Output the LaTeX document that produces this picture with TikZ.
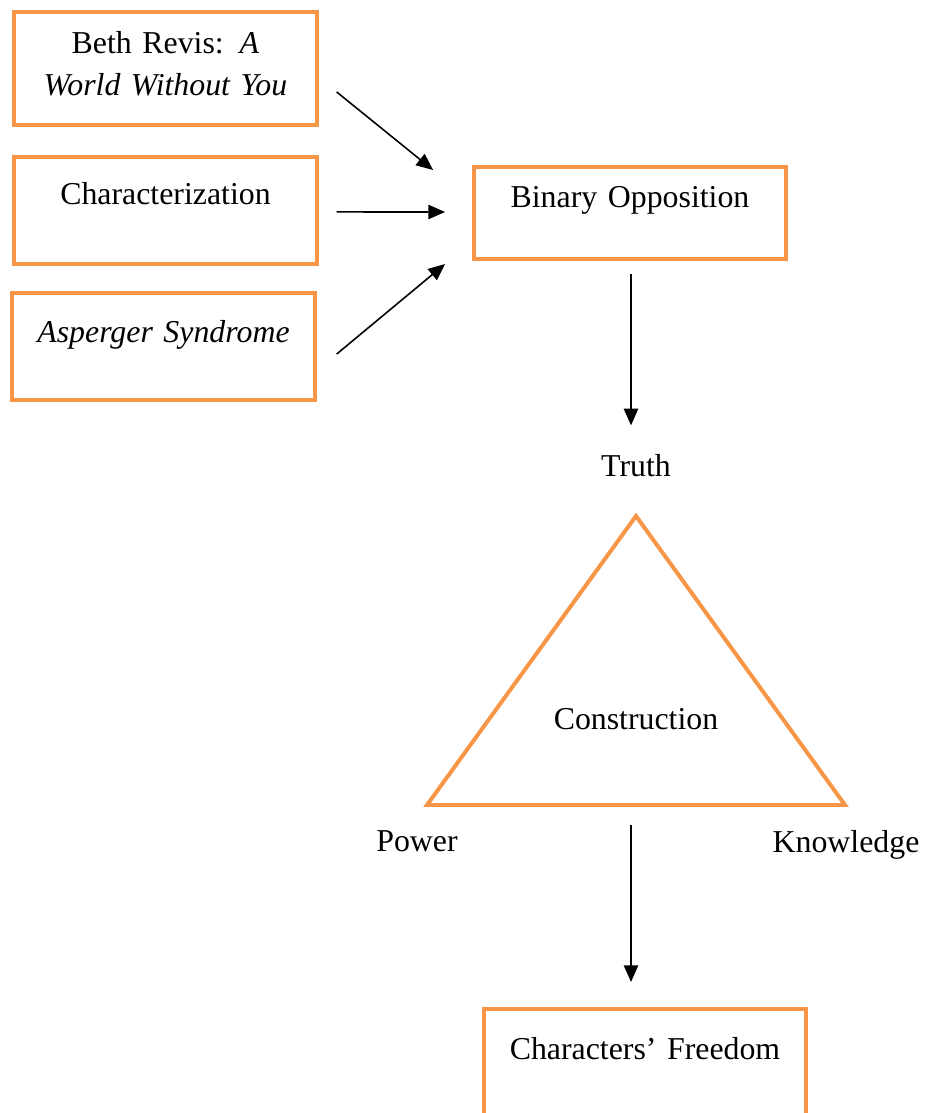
\documentclass[tikz,border=0pt]{standalone}
\usepackage{fontspec}
\setmainfont{Liberation Serif}
\usetikzlibrary{arrows.meta,calc}
\definecolor{boxorange}{HTML}{F79646}
\tikzset{
  obox/.style={draw=boxorange,line width=1.5pt,inner sep=0pt,align=center,
               anchor=north,font=\fontsize{12}{15.5}\selectfont},
  plainlbl/.style={font=\fontsize{12}{15.5}\selectfont,anchor=base,inner sep=0pt},
  link/.style={-{Triangle[length=6.3pt,width=5.4pt]},line width=0.6pt}
}

\begin{document}
\begin{tikzpicture}[x=0.377pt,y=-0.377pt]
  \path[use as bounding box] (0,0) rectangle (925,1113);
  \clip (0,0) rectangle (925,1113);
  % the three sources
  \node[obox,text width=114pt,text height=15.8pt,text depth=26.8pt] (revis) at (165.5,10)
    {Beth Revis: \textit{A}\\\textit{World Without You}};
  \node[obox,text width=114pt,text height=18.1pt,text depth=22.2pt] (charac) at (165.5,155)
    {Characterization};
  \node[obox,text width=114pt,text height=18.5pt,text depth=21.9pt] (asperger) at (163.5,291)
    {\textit{Asperger Syndrome}};
  \node[obox,text width=117.6pt,text height=15.1pt,text depth=19.6pt] (binary) at (630,165)
    {Binary Opposition};
  \draw[link] ($(revis.east)+(18,23.5)$) -- ($(binary.west)+(-39,-43)$);
  \draw[link] ($(charac.east)+(18,1.5)$) -- ($(binary.west)+(-27,-1)$);
  \draw[link] ($(asperger.east)+(20,7.5)$) -- ($(binary.west)+(-27,51)$);
  % triangle
  \node[plainlbl] (truth) at (636,476) {Truth};
  \draw[link] ($(binary.south)+(1,13)$) -- ($(truth.north)+(-5,-28)$);
  \coordinate (apex) at (636,516);
  \coordinate (left) at (427,805);
  \coordinate (right) at (845,805);
  \draw[boxorange,line width=1.5pt] (apex) -- (right) -- (left) -- cycle;
  \node[plainlbl] (constr) at (636,729) {Construction};
  \node[plainlbl] (power) at (417,851) {Power};
  \node[plainlbl] (knowl) at (846,852) {Knowledge};
  % result
  \coordinate (basemid) at (631,805);
  \node[obox,text width=121.4pt,text height=18.9pt,text depth=40pt] (freedom) at (645,1007)
    {Characters’ Freedom};
  \draw[link] ($(basemid)+(0,20)$) -- ($(freedom.north)+(-14,-25)$);
\end{tikzpicture}
\end{document}
